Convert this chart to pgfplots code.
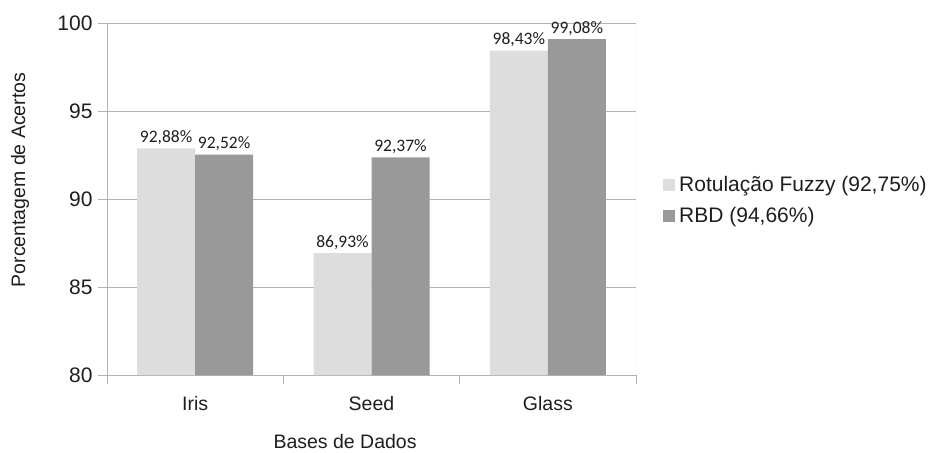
\documentclass[border=0pt]{standalone}
\usepackage{pgfplots}
\pgfplotsset{compat=1.18}
\usepackage{fontspec}
\setmainfont{Liberation Sans}
\newfontfamily\valfont{Carlito}

\definecolor{lightbar}{HTML}{DDDDDD}
\definecolor{darkbar}{HTML}{999999}
\definecolor{gridgray}{HTML}{B3B3B3}
\definecolor{framegray}{HTML}{D6D6D6}
\definecolor{txt}{HTML}{1E1E1E}

\newcommand\axisfont{\fontsize{19.5bp}{23bp}\selectfont}
\newcommand\yfont{\fontsize{21bp}{24bp}\selectfont}
\newcommand\legfont{\fontsize{21bp}{25bp}\selectfont}
\newcommand\valsize{\valfont\fontsize{17.5bp}{20bp}\selectfont}

\begin{document}
\begin{tikzpicture}
\path[use as bounding box] (-107bp,-78bp) rectangle (823bp,375bp);
\begin{axis}[
  at={(0,0)}, anchor=south west,
  scale only axis, width=529bp, height=352bp,
  ybar=0pt, bar width=58bp,
  xmin=-0.5, xmax=2.5, ymin=80, ymax=100,
  xtick={-0.5,0.5,1.5,2.5}, xticklabels={},
  extra x ticks={0,1,2},
  extra x tick labels={Iris,Seed,Glass},
  extra x tick style={major tick length=0pt},
  ytick={80,85,90,95,100},
  ymajorgrids,
  grid style={gridgray, line width=0.8bp},
  axis x line*=bottom, axis y line*=left,
  axis line style={gridgray, line width=0.8bp, -},
  tick style={gridgray, line width=0.8bp},
  tick align=outside, major tick length=9bp,
  /pgf/number format/assume math mode=true,
  tick label style={font=\axisfont, text=txt},
  xticklabel style={anchor=north, yshift=-18bp},
  yticklabel style={anchor=east, font=\yfont, xshift=-2bp},
  xlabel={Bases de Dados},
  ylabel={Porcentagem de Acertos},
  label style={font=\axisfont, text=txt},
  xlabel style={at={(axis description cs:0.45,0)}, anchor=center, inner sep=0pt, yshift=-67bp},
  ylabel style={at={(axis description cs:-0.1645,0.554)}, anchor=center, inner sep=0pt},
  nodes near coords={\pgfmathprintnumber[fixed, fixed zerofill, precision=2, use comma]{\pgfplotspointmeta}\%},
  every node near coord/.append style={font=\valsize, text=txt, anchor=south},
  legend style={at={(axis description cs:1,0.496)}, anchor=west, xshift=27bp,
    draw=none, fill=none, inner sep=0pt, row sep=10bp, font=\legfont, text=txt},
  legend cell align=left,
  legend image code/.code={\fill[#1] (0bp,-6bp) rectangle (12bp,6bp);},
]
% Rotulacao Fuzzy
\addplot[fill=lightbar, draw=none] coordinates {(0,92.88) (1,86.93) (2,98.43)};
% RBD
\addplot[fill=darkbar, draw=none] coordinates {(0,92.52) (1,92.37) (2,99.08)};
\legend{{\hspace{2bp}Rotulação Fuzzy (92,75\%)}, {\hspace{2bp}RBD (94,66\%)}}
\draw[framegray, line width=0.8bp] (rel axis cs:1,0) -- (rel axis cs:1,1);
\end{axis}
\end{tikzpicture}
\end{document}
